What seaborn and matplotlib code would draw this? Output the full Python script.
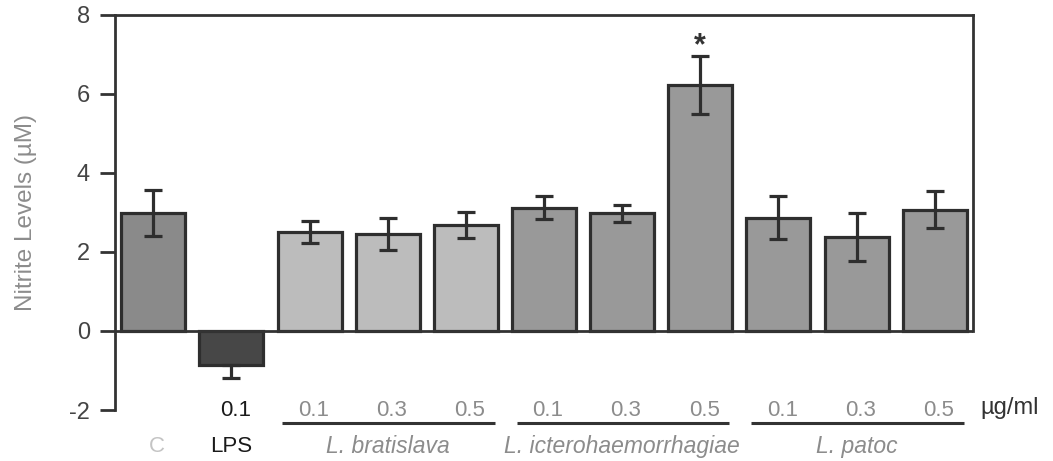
import numpy as np
import pandas as pd
import matplotlib
matplotlib.use("Agg")
import matplotlib.pyplot as plt
import matplotlib.transforms as mtransforms
import seaborn as sns

# Nitrite levels per treatment (mean and standard error, µM)
conditions = ["C", "LPS 0.1",
              "Lb 0.1", "Lb 0.3", "Lb 0.5",
              "Li 0.1", "Li 0.3", "Li 0.5",
              "Lp 0.1", "Lp 0.3", "Lp 0.5"]
means = [2.98, -0.85, 2.50, 2.45, 2.68, 3.12, 2.97, 6.21, 2.86, 2.38, 3.06]
errors = [0.58, 0.33, 0.27, 0.40, 0.33, 0.30, 0.22, 0.73, 0.54, 0.60, 0.47]
dose_labels = ["", "0.1", "0.1", "0.3", "0.5", "0.1", "0.3", "0.5", "0.1", "0.3", "0.5"]
groups = ["L. bratislava", "L. icterohaemorrhagiae", "L. patoc"]
group_members = [[2, 3, 4], [5, 6, 7], [8, 9, 10]]
significant = [7]

bar_colors = ["#8a8a8a", "#474747",
              "#bcbcbc", "#bcbcbc", "#bcbcbc",
              "#999999", "#999999", "#999999",
              "#999999", "#999999", "#999999"]

df = pd.DataFrame({"condition": conditions, "nitrite": means})

sns.set_style("white")
plt.rcParams["font.family"] = ["Liberation Sans", "DejaVu Sans"]

fig = plt.figure(figsize=(10.53, 4.61), dpi=100)
ax = fig.add_axes([0.1092, 0.1106, 0.9240 - 0.1092, 0.9685 - 0.1106])

sns.barplot(data=df, x="condition", y="nitrite", hue="condition",
            palette=bar_colors, legend=False, width=0.82,
            edgecolor="#2e2e2e", linewidth=2.3, saturation=1, ax=ax)

xpos = np.arange(len(conditions))
lower = np.array(errors)
upper = np.array([0.0 if m < 0 else e for m, e in zip(means, errors)])
ax.errorbar(xpos, means, yerr=[lower, upper], fmt="none",
            ecolor="#2e2e2e", elinewidth=2.3, capsize=6.8, capthick=2.3, zorder=5)

for i in significant:
    ax.text(xpos[i], means[i] + errors[i] - 0.12, "*", ha="center", va="bottom",
            fontsize=22, color="#333333", fontweight="bold")

ax.set_xlim(-0.49, 10.49)
ax.set_ylim(-2, 8)
ax.set_yticks([-2, 0, 2, 4, 6, 8])
ax.set_yticklabels(["-2", "0", "2", "4", "6", "8"])
ax.tick_params(axis="y", direction="out", length=11, width=2, color="#333333",
               labelsize=17, labelcolor="#444444", pad=7, left=True)
ax.set_xticks([])
ax.set_xlabel("")
ax.set_ylabel("Nitrite Levels (\u00b5M)", fontsize=17.5, color="#8c8c8c", labelpad=23)

for side in ["top", "left", "right"]:
    ax.spines[side].set_visible(True)
    ax.spines[side].set_color("#333333")
    ax.spines[side].set_linewidth(2)
ax.spines["right"].set_bounds(0, 8)
ax.spines["bottom"].set_visible(False)
ax.axhline(0, color="#333333", lw=2, zorder=6)

# Labels beneath the plotting area
trans = mtransforms.blended_transform_factory(ax.transData, fig.transFigure)
y_dose, y_line, y_group = 0.1085, 0.0824, 0.0325
for i, lab in enumerate(dose_labels):
    if not lab:
        continue
    col = "#1a1a1a" if i == 1 else "#8c8c8c"
    ax.text(xpos[i] + 0.05, y_dose, lab, transform=trans, ha="center", va="center",
            fontsize=16, color=col, clip_on=False)
ax.text(10.58, y_dose + 0.006, "\u00b5g/ml", transform=trans, ha="left", va="center",
        fontsize=17, color="#333333", clip_on=False)
ax.text(xpos[0] + 0.05, y_group, "C", transform=trans, ha="center", va="center",
        fontsize=16, color="#c4c4c4", clip_on=False)
ax.text(xpos[1], y_group, "LPS", transform=trans, ha="center", va="center",
        fontsize=16, color="#1a1a1a", clip_on=False)
for name, members in zip(groups, group_members):
    x0, x1 = xpos[members[0]] - 0.35, xpos[members[-1]] + 0.37
    ax.plot([x0, x1], [y_line, y_line], transform=trans, color="#333333",
            lw=2.2, clip_on=False, solid_capstyle="butt")
    ax.text(xpos[members[1]], y_group, name, transform=trans, ha="center",
            va="center", fontsize=16.5, style="italic", color="#8c8c8c", clip_on=False)

fig.savefig("out.png", dpi=100)
